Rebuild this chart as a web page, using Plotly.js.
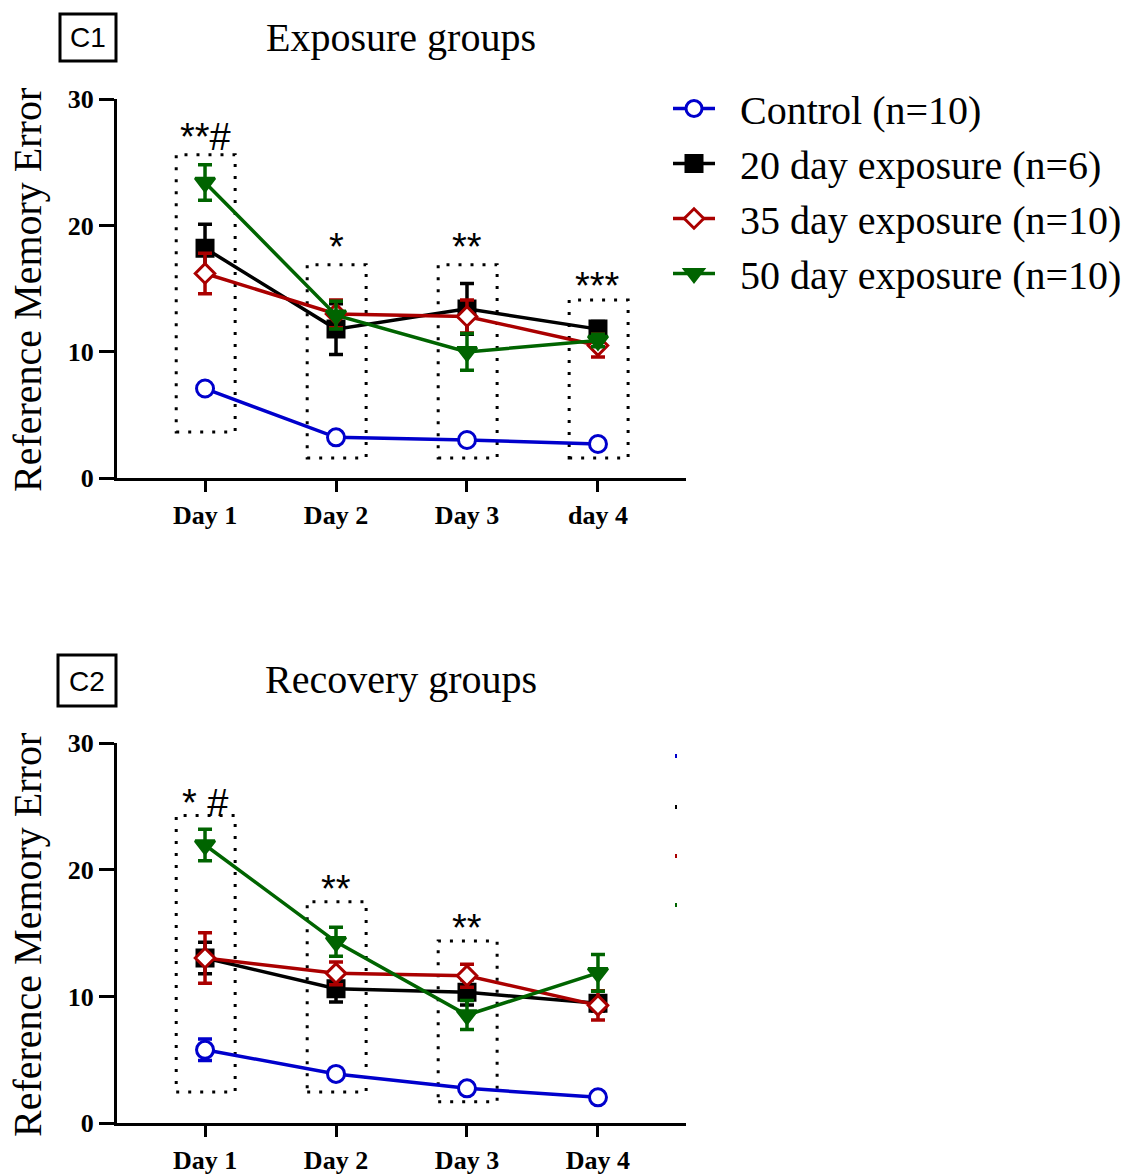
<!DOCTYPE html>
<html>
<head>
<meta charset="utf-8">
<script src="https://cdn.plot.ly/plotly-3.0.1.min.js"></script>
<style>html,body{margin:0;padding:0;background:#fff;}</style>
</head>
<body>
<div id="chart" style="width:1143px;height:1175px;"></div>
<script>
// ---------- DATA ----------
const days = [1, 2, 3, 4];
const exposureTickLabels = ["Day 1", "Day 2", "Day 3", "day 4"];
const recoveryTickLabels = ["Day 1", "Day 2", "Day 3", "Day 4"];
const seriesNames = ["Control (n=10)", "20 day exposure (n=6)", "35 day exposure (n=10)", "50 day exposure (n=10)"];

// Exposure groups (C1)
const expControl = [7.1, 3.24, 3.03, 2.71];
const expControlErr = [0.3, 0.25, 0.25, 0.25];
const exp20 = [18.2, 11.8, 13.4, 11.8];
const exp20Err = [1.9, 2.0, 2.0, 0.6];
const exp35 = [16.2, 13.0, 12.8, 10.5];
const exp35Err = [1.6, 1.1, 1.3, 0.9];
const exp50 = [23.4, 12.9, 10.0, 10.9];
const exp50Err = [1.4, 1.1, 1.45, 0.5];

// Recovery groups (C2)
const recControl = [5.8, 3.9, 2.76, 2.05];
const recControlErr = [0.85, 0.3, 0.3, 0.3];
const rec20 = [13.05, 10.63, 10.34, 9.47];
const rec20Err = [1.25, 1.05, 1.0, 0.6];
const rec35 = [13.05, 11.84, 11.65, 9.31];
const rec35Err = [2.0, 0.9, 0.9, 1.15];
const rec50 = [21.97, 14.33, 8.55, 11.88];
const rec50Err = [1.25, 1.15, 1.15, 1.45];

// Significance boxes and labels
const expBoxDays = [1, 2, 3, 4];
const expBoxLow = [3.66, 1.6, 1.6, 1.6];
const expBoxHigh = [25.6, 16.9, 16.9, 14.1];
const expSigText = ["**#", "*", "**", "***"];
const expSigY = [27.0, 18.3, 18.3, 15.2];

const recBoxDays = [1, 2, 3];
const recBoxLow = [2.47, 2.47, 1.7];
const recBoxHigh = [24.3, 17.5, 14.4];
const recSigText = ["* #", "**", "**"];
const recSigY = [25.3, 18.5, 15.4];

// ---------- STYLE ----------
const colors = ["#0000cc", "#000000", "#aa0000", "#006400"];
const symbols = ["circle", "square", "diamond", "triangle-down"];
const fills = ["#ffffff", "#000000", "#ffffff", "#006400"];
const sizes = [17, 16, 15, 17];
const serif = "Liberation Serif, Times New Roman, serif";
const NB = "\u00a0\u00a0";

function mk(y, err, i, xa, ya, showleg) {
  return {
    x: days, y: y, type: "scatter", mode: "lines+markers",
    name: NB + seriesNames[i], showlegend: showleg,
    xaxis: xa, yaxis: ya,
    line: {color: colors[i], width: 3.5},
    marker: {symbol: symbols[i], size: sizes[i], color: fills[i], line: {color: colors[i], width: 3}},
    error_y: {type: "data", array: err, visible: true, color: colors[i], thickness: 3.5, width: 7}
  };
}

const traces = [
  mk(expControl, expControlErr, 0, "x", "y", true),
  mk(exp20, exp20Err, 1, "x", "y", true),
  mk(exp35, exp35Err, 2, "x", "y", true),
  mk(exp50, exp50Err, 3, "x", "y", true),
  mk(recControl, recControlErr, 0, "x2", "y2", false),
  mk(rec20, rec20Err, 1, "x2", "y2", false),
  mk(rec35, rec35Err, 2, "x2", "y2", false),
  mk(rec50, rec50Err, 3, "x2", "y2", false)
];

const W = 1143, H = 1175;
const px = v => v / W;
const py = v => 1 - v / H;

function xAxis(labels, anchor) {
  return {
    domain: [px(117), px(686)], range: [0.328, 4.672], anchor: anchor,
    tickvals: days, ticktext: labels, ticks: "outside", ticklen: 11, tickwidth: 3, tickcolor: "#000",
    showline: true, linewidth: 3, linecolor: "#000", showgrid: false, zeroline: false,
    tickfont: {family: serif, size: 26, color: "#000", weight: "bold"}, fixedrange: true
  };
}
function yAxis(dom, anchor) {
  return {
    domain: dom, range: [0, 30], anchor: anchor,
    tickvals: [0, 10, 20, 30], ticks: "outside", ticklen: 15, tickwidth: 3, tickcolor: "#000",
    showline: true, linewidth: 3, linecolor: "#000", showgrid: false, zeroline: false,
    tickfont: {family: serif, size: 26, color: "#000", weight: "bold"}, fixedrange: true
  };
}

const shapes = [];
const annotations = [];
const dotLine = {color: "#000", width: 3, dash: "3px,9px"};
const starFont = {family: "Liberation Sans, Arial, sans-serif", size: 38, color: "#000"};
expBoxDays.forEach((d, i) => {
  shapes.push({type: "rect", xref: "x", yref: "y", x0: d - 0.22, x1: d + 0.23, y0: expBoxLow[i], y1: expBoxHigh[i], line: dotLine, layer: "below"});
  annotations.push({xref: "x", yref: "y", x: d, y: expSigY[i], text: expSigText[i], showarrow: false, font: starFont, xanchor: "center", yanchor: "middle"});
});
recBoxDays.forEach((d, i) => {
  shapes.push({type: "rect", xref: "x2", yref: "y2", x0: d - 0.22, x1: d + 0.23, y0: recBoxLow[i], y1: recBoxHigh[i], line: dotLine, layer: "below"});
  annotations.push({xref: "x2", yref: "y2", x: d, y: recSigY[i], text: recSigText[i], showarrow: false, font: starFont, xanchor: "center", yanchor: "middle"});
});

function paperText(x, y, text, font, extra) {
  return Object.assign({xref: "paper", yref: "paper", x: px(x), y: py(y), text: text, showarrow: false, font: font, xanchor: "center", yanchor: "middle"}, extra || {});
}

// panel label boxes
shapes.push({type: "rect", xref: "paper", yref: "paper", x0: px(60), x1: px(116), y0: py(61), y1: py(14), line: {color: "#000", width: 3}});
shapes.push({type: "rect", xref: "paper", yref: "paper", x0: px(58), x1: px(116), y0: py(706), y1: py(655), line: {color: "#000", width: 3}});
const sansFont = {family: "Liberation Sans, Arial, sans-serif", size: 28, color: "#000"};
annotations.push(paperText(88, 38, "C1", sansFont));
annotations.push(paperText(87, 681, "C2", sansFont));

// panel titles
const titleFont = {family: serif, size: 40, color: "#000"};
annotations.push(paperText(401, 37, "Exposure groups", titleFont));
annotations.push(paperText(401, 680, "Recovery groups", titleFont));

// y axis titles
annotations.push(paperText(27, 290, "Reference Memory Error", titleFont, {textangle: -90}));
annotations.push(paperText(27, 935, "Reference Memory Error", titleFont, {textangle: -90}));

// residual legend marks of the second panel
[756, 807, 856, 905].forEach((yy, i) => {
  shapes.push({type: "rect", xref: "paper", yref: "paper", x0: px(675), x1: px(677), y0: py(yy + 2), y1: py(yy - 2), line: {width: 0}, fillcolor: colors[i]});
});

const layout = {
  width: W, height: H, autosize: false,
  margin: {l: 0, r: 0, t: 0, b: 0},
  paper_bgcolor: "#fff", plot_bgcolor: "#fff",
  showlegend: true,
  legend: {x: px(668), y: py(76), xanchor: "left", yanchor: "top", font: {family: serif, size: 40, color: "#000"}, bgcolor: "rgba(0,0,0,0)", itemwidth: 42, tracegroupgap: 0},
  xaxis: xAxis(exposureTickLabels, "y"),
  yaxis: yAxis([py(478.3), py(99)], "x"),
  xaxis2: xAxis(recoveryTickLabels, "y2"),
  yaxis2: yAxis([py(1123.3), py(743.3)], "x2"),
  shapes: shapes,
  annotations: annotations
};

Plotly.newPlot("chart", traces, layout, {displayModeBar: false, staticPlot: true});
</script>
</body>
</html>
